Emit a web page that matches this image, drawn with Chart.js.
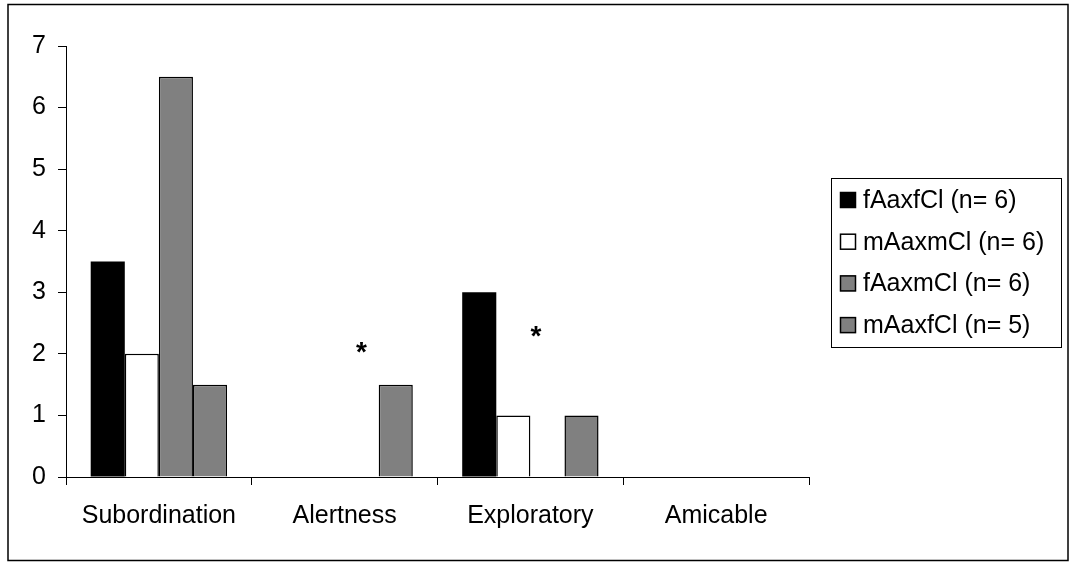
<!DOCTYPE html>
<html lang="en">

<head>
    <meta charset="UTF-8" />
    <title>Behaviour scores</title>
    <script src="https://cdn.jsdelivr.net/npm/chart.js"></script>
    <style>
        body {
            margin: 0;
            background: #fff;
        }

        #wrap {
            width: 1071px;
            height: 562px;
            position: relative;
        }
    </style>
</head>

<body>
    <div id="wrap">
        <canvas id="behaviourChart" width="1071" height="562"></canvas>
    </div>

    <script>
        // categories and series
        const categories = ['Subordination', 'Alertness', 'Exploratory', 'Amicable'];
        const seriesNames = ['fAaxfCl (n= 6)', 'mAaxmCl (n= 6)', 'fAaxmCl (n= 6)', 'mAaxfCl (n= 5)'];
        const fAaxfCl = [3.5, 0, 3, 0];
        const mAaxmCl = [2, 0, 1, 0];
        const fAaxmCl = [6.5, 0, 0, 0];
        const mAaxfCl = [1.5, 1.5, 1, 0];
        const yTicks = [0, 1, 2, 3, 4, 5, 6, 7];
        // significance marks: category, value where the star sits
        const starCategories = ['Alertness', 'Exploratory'];
        const starValues = [2.1, 2.35];
        const starShift = [0.09, 0.03];

        const FONT = "'Liberation Sans', Arial, sans-serif";
        const fills = ['#000000', '#ffffff', '#808080', '#808080'];

        const datasets = [fAaxfCl, mAaxmCl, fAaxmCl, mAaxfCl].map((vals, i) => ({
            label: seriesNames[i],
            data: vals,
            backgroundColor: fills[i],
            borderColor: '#000',
            borderWidth: i === 0 ? 0 : 1.5,
            borderSkipped: 'bottom',
            barPercentage: 1.0,
            categoryPercentage: 0.734
        }));

        // outer frame round the whole picture
        const framePlugin = {
            id: 'frame',
            beforeDraw(chart) {
                const ctx = chart.ctx;
                ctx.save();
                ctx.fillStyle = '#fff';
                ctx.fillRect(0, 0, chart.width, chart.height);
                ctx.strokeStyle = '#000';
                ctx.lineWidth = 1.5;
                ctx.strokeRect(8, 4.5, 1060, 556);
                ctx.restore();
            }
        };

        // stars above the bars
        const starPlugin = {
            id: 'stars',
            afterDatasetsDraw(chart) {
                const ctx = chart.ctx;
                const x = chart.scales.x;
                const y = chart.scales.y;
                ctx.save();
                ctx.fillStyle = '#000';
                ctx.font = 'bold 28px ' + FONT;
                ctx.textAlign = 'center';
                ctx.textBaseline = 'alphabetic';
                starCategories.forEach((cat, i) => {
                    const idx = categories.indexOf(cat);
                    const step = x.getPixelForValue(1) - x.getPixelForValue(0);
                    const px = x.getPixelForValue(idx) + starShift[i] * step;
                    const py = y.getPixelForValue(starValues[i]);
                    ctx.fillText('*', px, py + 13);
                });
                ctx.restore();
            }
        };

        // boxed legend on the right
        const legendPlugin = {
            id: 'boxLegend',
            afterDraw(chart) {
                const ctx = chart.ctx;
                ctx.save();
                ctx.strokeStyle = '#000';
                ctx.lineWidth = 1;
                ctx.strokeRect(831.5, 178.5, 230, 169);
                ctx.font = '25px ' + FONT;
                ctx.textBaseline = 'middle';
                ctx.textAlign = 'left';
                chart.data.datasets.forEach((ds, i) => {
                    const cy = 200 + i * 41.7;
                    ctx.fillStyle = ds.backgroundColor;
                    ctx.fillRect(840, cy - 8, 16, 16);
                    ctx.strokeStyle = '#000';
                    ctx.lineWidth = 1.5;
                    ctx.strokeRect(840.5, cy - 7.5, 15, 15);
                    ctx.fillStyle = '#000';
                    ctx.fillText(ds.label, 863, cy + 1);
                });
                ctx.restore();
            }
        };

        new Chart(document.getElementById('behaviourChart'), {
            type: 'bar',
            data: { labels: categories, datasets: datasets },
            plugins: [framePlugin, starPlugin, legendPlugin],
            options: {
                responsive: false,
                animation: false,
                layout: { padding: { top: 46, right: 262, bottom: 0, left: 0 } },
                plugins: {
                    legend: { display: false },
                    tooltip: { enabled: false }
                },
                scales: {
                    x: {
                        afterFit: s => { s.height = 85; },
                        grid: {
                            offset: true,
                            drawOnChartArea: false,
                            tickLength: 8,
                            color: '#000'
                        },
                        border: { color: '#000', width: 1 },
                        ticks: {
                            color: '#000',
                            padding: 16,
                            maxRotation: 0,
                            font: { family: FONT, size: 25 }
                        }
                    },
                    y: {
                        min: 0,
                        max: yTicks[yTicks.length - 1],
                        afterFit: s => { s.width = 66; },
                        afterBuildTicks: s => { s.ticks = yTicks.map(v => ({ value: v })); },
                        grid: {
                            drawOnChartArea: false,
                            tickLength: 8,
                            color: '#000'
                        },
                        border: { color: '#000', width: 1 },
                        ticks: {
                            color: '#000',
                            padding: 12,
                            font: { family: FONT, size: 25 }
                        }
                    }
                }
            }
        });
    </script>
</body>

</html>
